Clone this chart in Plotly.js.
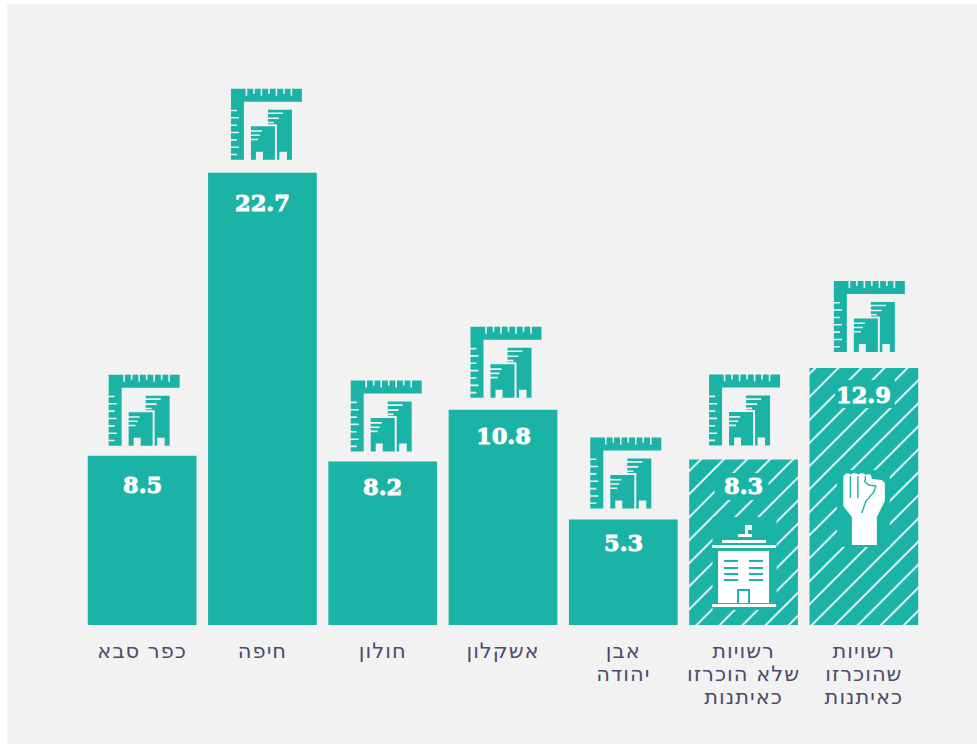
<!DOCTYPE html>
<html lang="he">
<head>
<meta charset="utf-8">
<script src="https://cdn.plot.ly/plotly-3.0.1.min.js"></script>
<style>
  html, body { margin: 0; padding: 0; background: #ffffff; overflow: hidden; }
  #chart { position: absolute; left: 7px; top: 4px; width: 970px; height: 740px; }
  /* Heavier figures inside the bars */
  #chart .annotation-text { stroke: #ffffff; stroke-width: 0.9px; }
  /* Wider setting for the Hebrew tick labels */
  #chart .xtick text { letter-spacing: 1px; }
</style>
</head>
<body>
<div id="chart"></div>
<script>
// Tick labels, right-to-left text on each line
const categories = [
  'כפר סבא',
  'חיפה',
  'חולון',
  'אשקלון',
  'אבן<br>יהודה',
  'רשויות<br>שלא הוכרזו<br>כאיתנות',
  'רשויות<br>שהוכרזו<br>כאיתנות'
];
const values = [8.5, 22.7, 8.2, 10.8, 5.3, 8.3, 12.9];
const hatching = ['', '', '', '', '', '/', '/'];

const TEAL = '#1bb3a6';
const PANEL = '#f2f2f2';
const INK = '#4b4b6d';

// Rectangle subpath in local icon units (u to the right, v downwards)
function rect(toPx, u0, v0, u1, v1) {
  const p = [[u0, v0], [u1, v0], [u1, v1], [u0, v1]].map(([u, v]) => toPx(u, v).join(','));
  return 'M' + p.join('L') + 'Z';
}
function poly(toPx, pts, closed) {
  return 'M' + pts.map(([u, v]) => toPx(u, v).join(',')).join('L') + (closed === false ? '' : 'Z');
}

// Ruler-and-buildings pictogram sitting above a bar; notches are evenodd holes
function rulerIcon(cat, val, dx, gap) {
  const toPx = (u, v) => [u + dx, gap + 71 - v];
  let d = poly(toPx, [[0, 0], [71, 0], [71, 13], [13, 13], [13, 71], [0, 71]]);
  [14.7, 22.2, 29.7, 37.2, 44.7, 52.2, 59.7].forEach((u, i) => {
    d += rect(toPx, u, 0, u + 1.6, i % 2 ? 5 : 7);
  });
  [21, 28.3, 35.7, 43, 50.4, 57.8, 65].forEach((v, i) => {
    d += rect(toPx, 0, v, i % 2 ? 8 : 6, v + 1.6);
  });
  d += poly(toPx, [[37, 21], [61, 21], [61, 71], [46, 71], [46, 35.5], [37, 35.5]]);
  d += rect(toPx, 48.5, 63, 56, 71);
  [24.5, 29.5, 33.8].forEach((v, i) => { d += rect(toPx, 37, v - 0.8, i === 0 ? 52 : (i === 1 ? 48 : 43), v + 0.8); });
  d += poly(toPx, [[20, 37.5], [44, 37.5], [44, 71], [20, 71]]);
  d += rect(toPx, 25, 63, 32, 71);
  [42.3, 46.6, 50.8].forEach((v, i) => { d += rect(toPx, 20, v - 0.8, i === 0 ? 31 : (i === 1 ? 29 : 27), v + 0.8); });
  return {
    type: 'path', layer: 'above', path: d, fillrule: 'evenodd',
    xsizemode: 'pixel', ysizemode: 'pixel', xanchor: cat, yanchor: val,
    fillcolor: TEAL, line: { width: 0 }
  };
}

function pixelShape(cat, d, fill, stroke) {
  return {
    type: 'path', layer: 'above', path: d, fillrule: 'evenodd',
    xsizemode: 'pixel', ysizemode: 'pixel', xanchor: cat, yanchor: 0,
    fillcolor: fill || 'rgba(0,0,0,0)',
    line: stroke ? { color: stroke, width: 1.4 } : { width: 0 }
  };
}

// Office block with a flag, on the bar of the undeclared authorities
function buildingIcon(cat) {
  const toPx = (u, v) => [u - 31.5, 100 - v];
  let w = rect(toPx, 26, 9, 40, 12) + rect(toPx, 33, 5, 36, 9) + rect(toPx, 33, 0, 40, 5);
  w += rect(toPx, 10, 15, 54, 18) + rect(toPx, 0, 20, 64, 23);
  w += rect(toPx, 6, 26, 57, 78) + rect(toPx, 0, 79, 64, 82);
  [36, 43, 49, 55].forEach(v => {
    w += rect(toPx, 12, v - 1, 26, v + 1) + rect(toPx, 37, v - 1, 51, v + 1);
  });
  w += rect(toPx, 25, 64, 38, 78) + rect(toPx, 27, 66, 36, 78);
  return [pixelShape(cat, w, '#ffffff')];
}

// Raised fist, on the bar of the declared authorities
function fistIcon(cat) {
  const toPx = (u, v) => [u - 29, 160 - v];
  const out = [];
  out.push(pixelShape(cat, poly(toPx, [
    [8.5, 11], [11, 8.5], [14, 8.5], [16, 9.5], [18.5, 8], [21.5, 8.5], [23.5, 9.5], [26, 8], [29, 8.5],
    [31, 10], [34, 9], [36, 10], [37, 14], [47, 15], [50, 18], [50, 36], [42, 52], [42, 80],
    [17, 80], [17, 52], [8.5, 41]
  ]), '#ffffff'));
  [[15.5, 11, 33], [23, 11, 33], [30.5, 11, 16]].forEach(([u, a, b]) => {
    out.push(pixelShape(cat, poly(toPx, [[u, a], [u, b]], false), null, TEAL));
  });
  out.push(pixelShape(cat, poly(toPx, [[29, 16], [34, 20], [41, 21], [39, 27], [31, 36], [27, 48]], false), null, TEAL));
  return out;
}

// Teal blocks that clear the hatching behind labels and pictograms
function clearing(cat, dx0, y0, dx1, y1) {
  return {
    type: 'rect', layer: 'above', xsizemode: 'pixel', ysizemode: 'pixel',
    xanchor: cat, yanchor: 0, x0: dx0, x1: dx1, y0: y0, y1: y1,
    fillcolor: TEAL, line: { width: 0 }
  };
}

const iconOffsets = [-33.5, -31.5, -32, -32.5, -33, -34.5, -30];
const iconGaps = [10, 13, 10, 12, 11, 14, 16];
const labelDrops = [29, 30, 25, 26, 24, 26, 27];

const shapes = [
  clearing(categories[5], -31, 15, 33, 108),
  clearing(categories[5], -29, 125, 25, 152),
  clearing(categories[6], -27, 78, 26, 155),
  clearing(categories[6], -29, 217, 31, 245)
];
categories.forEach((c, i) => shapes.push(rulerIcon(c, values[i], iconOffsets[i], iconGaps[i])));
shapes.push(...buildingIcon(categories[5]));
shapes.push(...fistIcon(categories[6]));

const annotations = categories.map((c, i) => ({
  x: c, y: values[i], xref: 'x', yref: 'y', yshift: -labelDrops[i],
  text: '<b>' + values[i].toFixed(1) + '</b>', showarrow: false,
  xanchor: 'center', yanchor: 'middle',
  font: { family: '"DejaVu Serif", serif', size: 22.5, color: '#ffffff' }
}));

Plotly.newPlot('chart', [{
  type: 'bar',
  x: categories,
  y: values,
  hoverinfo: 'skip',
  marker: {
    color: TEAL,
    line: { width: 0 },
    pattern: { shape: hatching, fgcolor: '#ffffff', bgcolor: TEAL, size: 16.3, solidity: 0.11, fillmode: 'replace' }
  }
}], {
  width: 970,
  height: 740,
  showlegend: false,
  paper_bgcolor: PANEL,
  plot_bgcolor: PANEL,
  bargap: 0.096,
  margin: { l: 75.1, r: 52.8, t: 83, b: 119, pad: 0 },
  xaxis: {
    type: 'category',
    categoryorder: 'array',
    categoryarray: categories,
    range: [-0.5, 6.5],
    showgrid: false, zeroline: false, showline: false,
    ticks: '', ticklen: 0,
    ticklabelstandoff: 11,
    tickangle: 0,
    tickfont: { family: '"DejaVu Sans", sans-serif', size: 21, color: INK }
  },
  yaxis: { range: [0, 27], visible: false, fixedrange: true },
  shapes: shapes,
  annotations: annotations
}, { displayModeBar: false, staticPlot: true }).then(() => {
  // Tighter leading for the multi-line tick labels
  document.querySelectorAll('#chart .xtick tspan.line').forEach(t => {
    t.setAttribute('dy', (parseFloat(t.getAttribute('dy')) * 23 / 27.3) + 'em');
  });
});
</script>
</body>
</html>
